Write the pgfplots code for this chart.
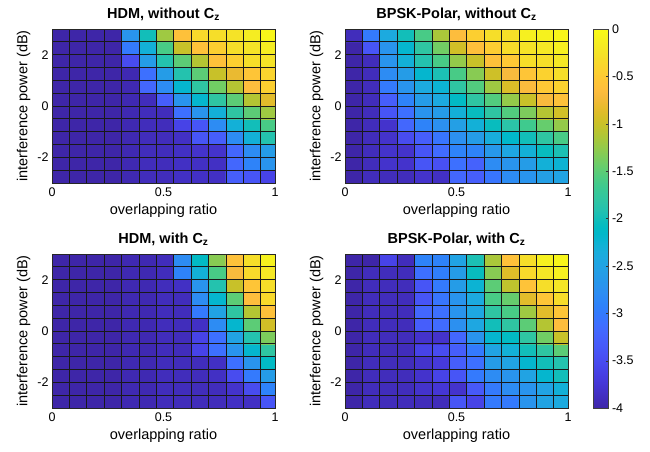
\documentclass[border=0pt]{standalone}
\usepackage{fontspec}
\setmainfont{Liberation Sans}
\usepackage{pgfplots}
\pgfplotsset{compat=1.18}
\pgfplotsset{
colormap={parulaold}{
rgb=(0.2422,0.1504,0.6603) rgb=(0.2504,0.1650,0.7076) rgb=(0.2578,0.1818,0.7511) rgb=(0.2647,0.1978,0.7952)
rgb=(0.2706,0.2147,0.8364) rgb=(0.2751,0.2342,0.8710) rgb=(0.2783,0.2559,0.8991) rgb=(0.2803,0.2782,0.9221)
rgb=(0.2813,0.3006,0.9414) rgb=(0.2810,0.3228,0.9579) rgb=(0.2795,0.3447,0.9717) rgb=(0.2760,0.3667,0.9829)
rgb=(0.2699,0.3892,0.9906) rgb=(0.2602,0.4123,0.9952) rgb=(0.2440,0.4358,0.9988) rgb=(0.2206,0.4603,0.9973)
rgb=(0.1963,0.4847,0.9892) rgb=(0.1834,0.5074,0.9798) rgb=(0.1786,0.5289,0.9682) rgb=(0.1764,0.5499,0.9520)
rgb=(0.1687,0.5703,0.9359) rgb=(0.1540,0.5902,0.9218) rgb=(0.1460,0.6091,0.9079) rgb=(0.1380,0.6276,0.8973)
rgb=(0.1248,0.6459,0.8883) rgb=(0.1113,0.6635,0.8763) rgb=(0.0952,0.6798,0.8598) rgb=(0.0689,0.6948,0.8394)
rgb=(0.0297,0.7082,0.8163) rgb=(0.0036,0.7203,0.7917) rgb=(0.0067,0.7312,0.7660) rgb=(0.0433,0.7411,0.7394)
rgb=(0.0964,0.7500,0.7120) rgb=(0.1408,0.7584,0.6842) rgb=(0.1717,0.7670,0.6554) rgb=(0.1938,0.7758,0.6251)
rgb=(0.2161,0.7843,0.5923) rgb=(0.2470,0.7918,0.5567) rgb=(0.2906,0.7973,0.5188) rgb=(0.3406,0.8008,0.4789)
rgb=(0.3909,0.8029,0.4354) rgb=(0.4456,0.8024,0.3909) rgb=(0.5044,0.7993,0.3480) rgb=(0.5616,0.7942,0.3045)
rgb=(0.6174,0.7876,0.2612) rgb=(0.6720,0.7793,0.2227) rgb=(0.7242,0.7698,0.1910) rgb=(0.7738,0.7598,0.1646)
rgb=(0.8203,0.7498,0.1535) rgb=(0.8634,0.7406,0.1596) rgb=(0.9035,0.7330,0.1774) rgb=(0.9393,0.7288,0.2100)
rgb=(0.9728,0.7298,0.2394) rgb=(0.9956,0.7434,0.2371) rgb=(0.9970,0.7659,0.2199) rgb=(0.9952,0.7893,0.2028)
rgb=(0.9892,0.8136,0.1885) rgb=(0.9786,0.8386,0.1766) rgb=(0.9676,0.8639,0.1643) rgb=(0.9610,0.8890,0.1537)
rgb=(0.9597,0.9135,0.1423) rgb=(0.9628,0.9373,0.1265) rgb=(0.9691,0.9606,0.1064) rgb=(0.9769,0.9839,0.0805)
},
hm/.style={
  scale only axis, width=223pt, height=154pt, anchor=south west,
  xmin=0, xmax=1, ymin=-3, ymax=3, enlargelimits=false,
  xtick={0,0.5,1}, ytick={-2,0,2},
  minor xtick={0.078,0.156,0.234,0.312,0.390,0.468,0.546,0.624,0.702,0.780,0.858,0.936},
  minor ytick={-2.5,-2,-1.5,-1,-0.5,0,0.5,1,1.5,2,2.5},
  xminorgrids, yminorgrids,
  minor grid style={draw=black!90, line width=0.85pt},
  major tick length=0pt, minor tick length=0pt,
  axis on top,
  axis line style={draw=black!85, line width=0.8pt},
  colormap name=parulaold,
  point meta min=-4, point meta max=0,
  tick label style={font=\fontsize{12.5}{14}\selectfont},
  xticklabel style={yshift=-1.5pt},
  label style={font=\fontsize{14.5}{17}\selectfont},
  title style={font=\bfseries\fontsize{14.5}{17}\selectfont, inner sep=2pt},
  xlabel={overlapping ratio}, ylabel={interference power (dB)},
  /pgf/number format/assume math mode=true,
},
mp/.style={matrix plot*, mesh/cols=13, point meta=explicit}
}
\begin{document}
\begin{tikzpicture}
\useasboundingbox (0,0) rectangle (650pt,451pt);
% ---------- Panel 1 ----------
\begin{axis}[hm, at={(52pt,268pt)}, title={HDM, without C\textsubscript{z}}]
\addplot[mp] table[meta=c, row sep=\\]{x y c\\
0.039 -2.75 -4\\0.117 -2.75 -4\\0.195 -2.75 -4\\0.273 -2.75 -4\\0.351 -2.75 -3.95\\0.429 -2.75 -3.9\\0.507 -2.75 -3.9\\0.585 -2.75 -3.85\\0.663 -2.75 -3.85\\0.741 -2.75 -3.85\\0.819 -2.75 -3.3\\0.897 -2.75 -3.4\\0.975 -2.75 -3.6\\
0.039 -2.25 -4\\0.117 -2.25 -4\\0.195 -2.25 -4\\0.273 -2.25 -4\\0.351 -2.25 -3.95\\0.429 -2.25 -3.9\\0.507 -2.25 -3.9\\0.585 -2.25 -3.85\\0.663 -2.25 -3.85\\0.741 -2.25 -3.85\\0.819 -2.25 -3.2\\0.897 -2.25 -2.9\\0.975 -2.25 -2.7\\
0.039 -1.75 -4\\0.117 -1.75 -4\\0.195 -1.75 -4\\0.273 -1.75 -4\\0.351 -1.75 -3.95\\0.429 -1.75 -3.9\\0.507 -1.75 -3.9\\0.585 -1.75 -3.85\\0.663 -1.75 -3.8\\0.741 -1.75 -3.8\\0.819 -1.75 -3.2\\0.897 -1.75 -2.8\\0.975 -1.75 -2.6\\
0.039 -1.25 -4\\0.117 -1.25 -4\\0.195 -1.25 -4\\0.273 -1.25 -4\\0.351 -1.25 -3.95\\0.429 -1.25 -3.9\\0.507 -1.25 -3.9\\0.585 -1.25 -3.85\\0.663 -1.25 -3.4\\0.741 -1.25 -3.3\\0.819 -1.25 -2.8\\0.897 -1.25 -2.3\\0.975 -1.25 -1.9\\
0.039 -0.75 -4\\0.117 -0.75 -4\\0.195 -0.75 -4\\0.273 -0.75 -4\\0.351 -0.75 -3.95\\0.429 -0.75 -3.9\\0.507 -0.75 -3.9\\0.585 -0.75 -3.6\\0.663 -0.75 -3.4\\0.741 -0.75 -2.8\\0.819 -0.75 -2.3\\0.897 -0.75 -2.0\\0.975 -0.75 -1.6\\
0.039 -0.25 -4\\0.117 -0.25 -4\\0.195 -0.25 -4\\0.273 -0.25 -4\\0.351 -0.25 -3.95\\0.429 -0.25 -3.9\\0.507 -0.25 -3.9\\0.585 -0.25 -3.1\\0.663 -0.25 -2.7\\0.741 -0.25 -2.3\\0.819 -0.25 -1.8\\0.897 -0.25 -1.5\\0.975 -0.25 -1.2\\
0.039 0.25 -4\\0.117 0.25 -4\\0.195 0.25 -4\\0.273 0.25 -4\\0.351 0.25 -3.95\\0.429 0.25 -3.9\\0.507 0.25 -3.3\\0.585 0.25 -2.7\\0.663 0.25 -2.2\\0.741 0.25 -1.8\\0.819 0.25 -1.5\\0.897 0.25 -1.1\\0.975 0.25 -0.85\\
0.039 0.75 -4\\0.117 0.75 -4\\0.195 0.75 -4\\0.273 0.75 -4\\0.351 0.75 -3.95\\0.429 0.75 -3.2\\0.507 0.75 -2.8\\0.585 0.75 -2.2\\0.663 0.75 -1.8\\0.741 0.75 -1.4\\0.819 0.75 -1.1\\0.897 0.75 -0.65\\0.975 0.75 -0.45\\
0.039 1.25 -4\\0.117 1.25 -4\\0.195 1.25 -4\\0.273 1.25 -4\\0.351 1.25 -3.95\\0.429 1.25 -3.1\\0.507 1.25 -2.6\\0.585 1.25 -1.9\\0.663 1.25 -1.5\\0.741 1.25 -1.0\\0.819 1.25 -0.8\\0.897 1.25 -0.55\\0.975 1.25 -0.4\\
0.039 1.75 -4\\0.117 1.75 -4\\0.195 1.75 -4\\0.273 1.75 -4\\0.351 1.75 -3.5\\0.429 1.75 -2.6\\0.507 1.75 -1.9\\0.585 1.75 -1.5\\0.663 1.75 -1.1\\0.741 1.75 -0.6\\0.819 1.75 -0.45\\0.897 1.75 -0.3\\0.975 1.75 -0.25\\
0.039 2.25 -4\\0.117 2.25 -4\\0.195 2.25 -4\\0.273 2.25 -4\\0.351 2.25 -3.0\\0.429 2.25 -2.3\\0.507 2.25 -1.6\\0.585 2.25 -1.0\\0.663 2.25 -0.6\\0.741 2.25 -0.45\\0.819 2.25 -0.3\\0.897 2.25 -0.25\\0.975 2.25 -0.15\\
0.039 2.75 -4\\0.117 2.75 -4\\0.195 2.75 -4\\0.273 2.75 -4\\0.351 2.75 -2.7\\0.429 2.75 -2.0\\0.507 2.75 -1.2\\0.585 2.75 -0.6\\0.663 2.75 -0.35\\0.741 2.75 -0.3\\0.819 2.75 -0.25\\0.897 2.75 -0.15\\0.975 2.75 -0.05\\
};
\end{axis}
% ---------- Panel 2 ----------
\begin{axis}[hm, at={(345pt,268pt)}, title={BPSK-Polar, without C\textsubscript{z}},
  colorbar,
  colorbar style={
    at={(parent axis.north east)}, anchor=north west, xshift=17pt,
    scale only axis, width=15pt, height=379pt,
    colormap name=parulaold, point meta min=-4, point meta max=0,
    ytick={-4,-3.5,-3,-2.5,-2,-1.5,-1,-0.5,0},
    ytick pos=right, yticklabel pos=right,
    major tick length=3pt, tick align=inside,
    tick style={draw=black!80},
    axis line style={draw=black!75, line width=0.6pt},
    yticklabel style={font=\fontsize{12.5}{14}\selectfont, /pgf/number format/assume math mode=true, /pgf/number format/fixed},
  }]
\addplot[mp] table[meta=c, row sep=\\]{x y c\\
0.039 -2.75 -4\\0.117 -2.75 -3.9\\0.195 -2.75 -3.9\\0.273 -2.75 -3.9\\0.351 -2.75 -3.8\\0.429 -2.75 -3.85\\0.507 -2.75 -3.2\\0.585 -2.75 -3.3\\0.663 -2.75 -3.05\\0.741 -2.75 -2.8\\0.819 -2.75 -2.7\\0.897 -2.75 -2.55\\0.975 -2.75 -2.5\\
0.039 -2.25 -4\\0.117 -2.25 -3.9\\0.195 -2.25 -3.8\\0.273 -2.25 -3.8\\0.351 -2.25 -3.4\\0.429 -2.25 -3.45\\0.507 -2.25 -3.1\\0.585 -2.25 -3.25\\0.663 -2.25 -2.8\\0.741 -2.25 -2.7\\0.819 -2.25 -2.6\\0.897 -2.25 -2.3\\0.975 -2.25 -2.25\\
0.039 -1.75 -4\\0.117 -1.75 -3.9\\0.195 -1.75 -3.8\\0.273 -1.75 -3.8\\0.351 -1.75 -3.4\\0.429 -1.75 -3.15\\0.507 -1.75 -2.9\\0.585 -1.75 -2.9\\0.663 -1.75 -2.65\\0.741 -1.75 -2.45\\0.819 -1.75 -2.3\\0.897 -1.75 -2.05\\0.975 -1.75 -1.95\\
0.039 -1.25 -4\\0.117 -1.25 -3.9\\0.195 -1.25 -3.8\\0.273 -1.25 -3.5\\0.351 -1.25 -3.3\\0.429 -1.25 -3.05\\0.507 -1.25 -2.75\\0.585 -1.25 -2.6\\0.663 -1.25 -2.35\\0.741 -1.25 -2.15\\0.819 -1.25 -2.0\\0.897 -1.25 -1.8\\0.975 -1.25 -1.6\\
0.039 -0.75 -4\\0.117 -0.75 -3.9\\0.195 -0.75 -3.8\\0.273 -0.75 -3.2\\0.351 -0.75 -2.9\\0.429 -0.75 -2.75\\0.507 -0.75 -2.55\\0.585 -0.75 -2.3\\0.663 -0.75 -2.05\\0.741 -0.75 -1.85\\0.819 -0.75 -1.65\\0.897 -0.75 -1.45\\0.975 -0.75 -1.25\\
0.039 -0.25 -4\\0.117 -0.25 -3.9\\0.195 -0.25 -3.4\\0.273 -0.25 -3.1\\0.351 -0.25 -2.7\\0.429 -0.25 -2.6\\0.507 -0.25 -2.3\\0.585 -0.25 -2.05\\0.663 -0.25 -1.8\\0.741 -0.25 -1.55\\0.819 -0.25 -1.35\\0.897 -0.25 -1.1\\0.975 -0.25 -0.95\\
0.039 0.25 -4\\0.117 0.25 -3.9\\0.195 0.25 -3.3\\0.273 0.25 -2.9\\0.351 0.25 -2.6\\0.429 0.25 -2.4\\0.507 0.25 -2.1\\0.585 0.25 -1.8\\0.663 0.25 -1.55\\0.741 0.25 -1.25\\0.819 0.25 -1.0\\0.897 0.25 -0.7\\0.975 0.25 -0.6\\
0.039 0.75 -4\\0.117 0.75 -3.9\\0.195 0.75 -3.0\\0.273 0.75 -2.7\\0.351 0.75 -2.4\\0.429 0.75 -2.25\\0.507 0.75 -1.8\\0.585 0.75 -1.55\\0.663 0.75 -1.2\\0.741 0.75 -0.9\\0.819 0.75 -0.68\\0.897 0.75 -0.52\\0.975 0.75 -0.42\\
0.039 1.25 -4\\0.117 1.25 -3.9\\0.195 1.25 -2.8\\0.273 1.25 -2.6\\0.351 1.25 -2.2\\0.429 1.25 -1.95\\0.507 1.25 -1.6\\0.585 1.25 -1.3\\0.663 1.25 -0.97\\0.741 1.25 -0.7\\0.819 1.25 -0.55\\0.897 1.25 -0.42\\0.975 1.25 -0.3\\
0.039 1.75 -4\\0.117 1.75 -3.9\\0.195 1.75 -2.7\\0.273 1.75 -2.3\\0.351 1.75 -1.9\\0.429 1.75 -1.6\\0.507 1.75 -1.25\\0.585 1.75 -1.0\\0.663 1.75 -0.6\\0.741 1.75 -0.52\\0.819 1.75 -0.3\\0.897 1.75 -0.3\\0.975 1.75 -0.2\\
0.039 2.25 -4\\0.117 2.25 -3.4\\0.195 2.25 -2.7\\0.273 2.25 -2.2\\0.351 2.25 -1.8\\0.429 2.25 -1.4\\0.507 2.25 -0.95\\0.585 2.25 -0.62\\0.663 2.25 -0.47\\0.741 2.25 -0.32\\0.819 2.25 -0.25\\0.897 2.25 -0.2\\0.975 2.25 -0.12\\
0.039 2.75 -3.9\\0.117 2.75 -3.0\\0.195 2.75 -2.4\\0.273 2.75 -2.0\\0.351 2.75 -1.6\\0.429 2.75 -1.15\\0.507 2.75 -0.65\\0.585 2.75 -0.45\\0.663 2.75 -0.3\\0.741 2.75 -0.28\\0.819 2.75 -0.12\\0.897 2.75 -0.1\\0.975 2.75 -0.05\\
};
\end{axis}
% ---------- Panel 3 ----------
\begin{axis}[hm, at={(52pt,43pt)}, title={HDM, with C\textsubscript{z}}]
\addplot[mp] table[meta=c, row sep=\\]{x y c\\
0.039 -2.75 -4\\0.117 -2.75 -4\\0.195 -2.75 -4\\0.273 -2.75 -4\\0.351 -2.75 -3.95\\0.429 -2.75 -3.95\\0.507 -2.75 -3.9\\0.585 -2.75 -3.9\\0.663 -2.75 -3.9\\0.741 -2.75 -3.9\\0.819 -2.75 -3.85\\0.897 -2.75 -3.85\\0.975 -2.75 -3.4\\
0.039 -2.25 -4\\0.117 -2.25 -4\\0.195 -2.25 -4\\0.273 -2.25 -4\\0.351 -2.25 -3.95\\0.429 -2.25 -3.95\\0.507 -2.25 -3.9\\0.585 -2.25 -3.9\\0.663 -2.25 -3.9\\0.741 -2.25 -3.9\\0.819 -2.25 -3.8\\0.897 -2.25 -3.5\\0.975 -2.25 -2.9\\
0.039 -1.75 -4\\0.117 -1.75 -4\\0.195 -1.75 -4\\0.273 -1.75 -4\\0.351 -1.75 -3.95\\0.429 -1.75 -3.95\\0.507 -1.75 -3.9\\0.585 -1.75 -3.9\\0.663 -1.75 -3.9\\0.741 -1.75 -3.85\\0.819 -1.75 -3.5\\0.897 -1.75 -3.0\\0.975 -1.75 -2.6\\
0.039 -1.25 -4\\0.117 -1.25 -4\\0.195 -1.25 -4\\0.273 -1.25 -4\\0.351 -1.25 -3.95\\0.429 -1.25 -3.95\\0.507 -1.25 -3.9\\0.585 -1.25 -3.9\\0.663 -1.25 -3.9\\0.741 -1.25 -3.85\\0.819 -1.25 -3.1\\0.897 -1.25 -2.7\\0.975 -1.25 -2.1\\
0.039 -0.75 -4\\0.117 -0.75 -4\\0.195 -0.75 -4\\0.273 -0.75 -4\\0.351 -0.75 -3.95\\0.429 -0.75 -3.95\\0.507 -0.75 -3.9\\0.585 -0.75 -3.9\\0.663 -0.75 -3.6\\0.741 -0.75 -3.1\\0.819 -0.75 -2.7\\0.897 -0.75 -2.2\\0.975 -0.75 -1.8\\
0.039 -0.25 -4\\0.117 -0.25 -4\\0.195 -0.25 -4\\0.273 -0.25 -4\\0.351 -0.25 -3.95\\0.429 -0.25 -3.95\\0.507 -0.25 -3.9\\0.585 -0.25 -3.9\\0.663 -0.25 -3.6\\0.741 -0.25 -3.1\\0.819 -0.25 -2.5\\0.897 -0.25 -1.9\\0.975 -0.25 -1.35\\
0.039 0.25 -4\\0.117 0.25 -4\\0.195 0.25 -4\\0.273 0.25 -4\\0.351 0.25 -3.95\\0.429 0.25 -3.95\\0.507 0.25 -3.9\\0.585 0.25 -3.9\\0.663 0.25 -3.85\\0.741 0.25 -2.8\\0.819 0.25 -2.2\\0.897 0.25 -1.5\\0.975 0.25 -0.95\\
0.039 0.75 -4\\0.117 0.75 -4\\0.195 0.75 -4\\0.273 0.75 -4\\0.351 0.75 -3.95\\0.429 0.75 -3.95\\0.507 0.75 -3.9\\0.585 0.75 -3.9\\0.663 0.75 -3.0\\0.741 0.75 -2.5\\0.819 0.75 -1.8\\0.897 0.75 -1.1\\0.975 0.75 -0.6\\
0.039 1.25 -4\\0.117 1.25 -4\\0.195 1.25 -4\\0.273 1.25 -4\\0.351 1.25 -3.95\\0.429 1.25 -3.95\\0.507 1.25 -3.9\\0.585 1.25 -3.9\\0.663 1.25 -2.8\\0.741 1.25 -2.2\\0.819 1.25 -1.5\\0.897 1.25 -0.65\\0.975 1.25 -0.35\\
0.039 1.75 -4\\0.117 1.75 -4\\0.195 1.75 -4\\0.273 1.75 -4\\0.351 1.75 -3.95\\0.429 1.75 -3.95\\0.507 1.75 -3.9\\0.585 1.75 -3.85\\0.663 1.75 -2.7\\0.741 1.75 -1.9\\0.819 1.75 -1.0\\0.897 1.75 -0.55\\0.975 1.75 -0.3\\
0.039 2.25 -4\\0.117 2.25 -4\\0.195 2.25 -4\\0.273 2.25 -4\\0.351 2.25 -3.95\\0.429 2.25 -3.95\\0.507 2.25 -3.9\\0.585 2.25 -2.9\\0.663 2.25 -2.3\\0.741 2.25 -1.6\\0.819 2.25 -0.7\\0.897 2.25 -0.35\\0.975 2.25 -0.2\\
0.039 2.75 -4\\0.117 2.75 -4\\0.195 2.75 -4\\0.273 2.75 -4\\0.351 2.75 -3.95\\0.429 2.75 -3.95\\0.507 2.75 -3.9\\0.585 2.75 -2.8\\0.663 2.75 -2.1\\0.741 2.75 -1.3\\0.819 2.75 -0.6\\0.897 2.75 -0.3\\0.975 2.75 -0.1\\
};
\end{axis}
% ---------- Panel 4 ----------
\begin{axis}[hm, at={(345pt,43pt)}, title={BPSK-Polar, with C\textsubscript{z}}]
\addplot[mp] table[meta=c, row sep=\\]{x y c\\
0.039 -2.75 -4\\0.117 -2.75 -3.9\\0.195 -2.75 -3.9\\0.273 -2.75 -3.9\\0.351 -2.75 -3.9\\0.429 -2.75 -3.9\\0.507 -2.75 -3.4\\0.585 -2.75 -3.6\\0.663 -2.75 -3.0\\0.741 -2.75 -3.0\\0.819 -2.75 -2.7\\0.897 -2.75 -2.5\\0.975 -2.75 -2.4\\
0.039 -2.25 -4\\0.117 -2.25 -3.9\\0.195 -2.25 -3.9\\0.273 -2.25 -3.9\\0.351 -2.25 -3.8\\0.429 -2.25 -3.75\\0.507 -2.25 -3.8\\0.585 -2.25 -3.35\\0.663 -2.25 -3.0\\0.741 -2.25 -2.8\\0.819 -2.25 -2.7\\0.897 -2.25 -2.5\\0.975 -2.25 -2.3\\
0.039 -1.75 -4\\0.117 -1.75 -3.9\\0.195 -1.75 -3.9\\0.273 -1.75 -3.9\\0.351 -1.75 -3.8\\0.429 -1.75 -3.6\\0.507 -1.75 -3.4\\0.585 -1.75 -3.0\\0.663 -1.75 -2.8\\0.741 -1.75 -2.7\\0.819 -1.75 -2.5\\0.897 -1.75 -2.2\\0.975 -1.75 -2.0\\
0.039 -1.25 -4\\0.117 -1.25 -3.9\\0.195 -1.25 -3.9\\0.273 -1.25 -3.9\\0.351 -1.25 -3.8\\0.429 -1.25 -3.7\\0.507 -1.25 -3.3\\0.585 -1.25 -3.1\\0.663 -1.25 -2.6\\0.741 -1.25 -2.5\\0.819 -1.25 -2.2\\0.897 -1.25 -2.0\\0.975 -1.25 -1.9\\
0.039 -0.75 -4\\0.117 -0.75 -3.9\\0.195 -0.75 -3.9\\0.273 -0.75 -3.9\\0.351 -0.75 -3.6\\0.429 -0.75 -3.5\\0.507 -0.75 -3.3\\0.585 -0.75 -3.0\\0.663 -0.75 -2.5\\0.741 -0.75 -2.3\\0.819 -0.75 -2.0\\0.897 -0.75 -1.8\\0.975 -0.75 -1.5\\
0.039 -0.25 -4\\0.117 -0.25 -3.9\\0.195 -0.25 -3.9\\0.273 -0.25 -3.9\\0.351 -0.25 -3.8\\0.429 -0.25 -3.8\\0.507 -0.25 -3.2\\0.585 -0.25 -2.7\\0.663 -0.25 -2.2\\0.741 -0.25 -2.1\\0.819 -0.25 -1.8\\0.897 -0.25 -1.4\\0.975 -0.25 -1.0\\
0.039 0.25 -4\\0.117 0.25 -3.9\\0.195 0.25 -3.9\\0.273 0.25 -3.9\\0.351 0.25 -3.3\\0.429 0.25 -3.15\\0.507 0.25 -2.75\\0.585 0.25 -2.45\\0.663 0.25 -2.0\\0.741 0.25 -1.8\\0.819 0.25 -1.5\\0.897 0.25 -1.1\\0.975 0.25 -0.65\\
0.039 0.75 -4\\0.117 0.75 -3.9\\0.195 0.75 -3.9\\0.273 0.75 -3.9\\0.351 0.75 -3.2\\0.429 0.75 -3.1\\0.507 0.75 -2.7\\0.585 0.75 -2.45\\0.663 0.75 -1.8\\0.741 0.75 -1.6\\0.819 0.75 -1.2\\0.897 0.75 -0.85\\0.975 0.75 -0.55\\
0.039 1.25 -4\\0.117 1.25 -3.9\\0.195 1.25 -3.9\\0.273 1.25 -3.9\\0.351 1.25 -3.4\\0.429 1.25 -3.05\\0.507 1.25 -2.7\\0.585 1.25 -2.4\\0.663 1.25 -1.6\\0.741 1.25 -1.45\\0.819 1.25 -0.85\\0.897 1.25 -0.55\\0.975 1.25 -0.32\\
0.039 1.75 -4\\0.117 1.75 -3.9\\0.195 1.75 -3.9\\0.273 1.75 -3.9\\0.351 1.75 -3.4\\0.429 1.75 -3.0\\0.507 1.75 -2.6\\0.585 1.75 -2.25\\0.663 1.75 -1.5\\0.741 1.75 -1.05\\0.819 1.75 -0.58\\0.897 1.75 -0.3\\0.975 1.75 -0.22\\
0.039 2.25 -4\\0.117 2.25 -3.9\\0.195 2.25 -3.9\\0.273 2.25 -3.9\\0.351 2.25 -3.1\\0.429 2.25 -2.95\\0.507 2.25 -2.6\\0.585 2.25 -2.05\\0.663 2.25 -1.3\\0.741 2.25 -0.88\\0.819 2.25 -0.35\\0.897 2.25 -0.22\\0.975 2.25 -0.12\\
0.039 2.75 -4\\0.117 2.75 -4\\0.195 2.75 -3.6\\0.273 2.75 -3.9\\0.351 2.75 -2.9\\0.429 2.75 -2.9\\0.507 2.75 -2.5\\0.585 2.75 -1.95\\0.663 2.75 -1.15\\0.741 2.75 -0.6\\0.819 2.75 -0.3\\0.897 2.75 -0.11\\0.975 2.75 -0.05\\
};
\end{axis}
\end{tikzpicture}
\end{document}
